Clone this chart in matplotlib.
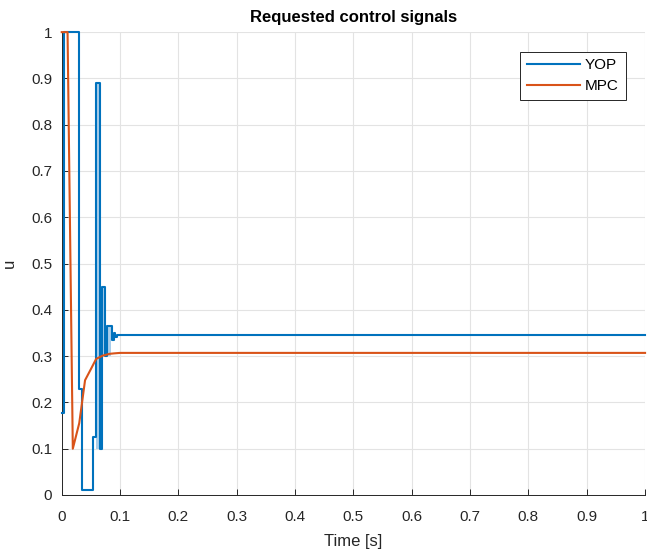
import matplotlib
matplotlib.use("Agg")
import matplotlib.pyplot as plt

plt.rcParams['font.family'] = ['Liberation Sans', 'DejaVu Sans']

# YOP piecewise-constant control (steps-post)
yop_t = [0.0, 0.004, 0.030, 0.034, 0.054, 0.058, 0.065, 0.069, 0.075, 0.078, 0.086, 0.089, 0.092, 0.095, 0.15, 1.0]
yop_u = [0.177, 1.0, 0.23, 0.01, 0.125, 0.89, 0.10, 0.45, 0.30, 0.365, 0.335, 0.35, 0.342, 0.345, 0.345, 0.345]

# chattering bands (rapid switching appears as shaded areas)
band_t1 = [0.0587, 0.0643]
band_lo1 = [0.10, 0.10]
band_hi1 = [0.89, 0.89]
band_t2 = [0.0655, 0.0745]
band_lo2 = [0.30, 0.30]
band_hi2 = [0.45, 0.45]
band_t3 = [0.0787, 0.0853]
band_lo3 = [0.30, 0.30]
band_hi3 = [0.365, 0.365]

# MPC control (linear interpolation)
mpc_t = [0.0, 0.01, 0.019, 0.03, 0.04, 0.05, 0.059, 0.07, 0.082, 0.09, 0.1, 1.0]
mpc_u = [1.0, 1.0, 0.10, 0.155, 0.248, 0.272, 0.294, 0.301, 0.305, 0.306, 0.307, 0.307]

xticks = [0, 0.1, 0.2, 0.3, 0.4, 0.5, 0.6, 0.7, 0.8, 0.9, 1]
xticklabels = ['0', '0.1', '0.2', '0.3', '0.4', '0.5', '0.6', '0.7', '0.8', '0.9', '1']
yticks = [0, 0.1, 0.2, 0.3, 0.4, 0.5, 0.6, 0.7, 0.8, 0.9, 1]
yticklabels = ['0', '0.1', '0.2', '0.3', '0.4', '0.5', '0.6', '0.7', '0.8', '0.9', '1']

blue = '#0072BD'
orange = '#D95319'
shade = '#a9cdea'

fig = plt.figure(figsize=(6.47, 5.54), dpi=100)
ax = fig.add_axes([0.0954, 0.1065, 0.9016, 0.8355])

for bt, blo, bhi in [(band_t1, band_lo1, band_hi1), (band_t2, band_lo2, band_hi2),
                     (band_t3, band_lo3, band_hi3)]:
    ax.fill_between(bt, blo, bhi, color=shade, lw=0, zorder=2)
ax.plot(yop_t, yop_u, drawstyle='steps-post', color=blue, lw=1.5, label='YOP',
        zorder=3, clip_on=False)
ax.plot(mpc_t, mpc_u, color=orange, lw=1.5, label='MPC', zorder=4, clip_on=False)

ax.set_xlim(0, 1)
ax.set_ylim(0, 1)
ax.set_xticks(xticks)
ax.set_xticklabels(xticklabels)
ax.set_yticks(yticks)
ax.set_yticklabels(yticklabels)
ax.tick_params(direction='in', length=4, width=0.7, labelsize=11, colors='#262626')
ax.tick_params(axis='x', pad=11)
ax.tick_params(axis='y', pad=7)
ax.grid(True, color='#e3e3e3', lw=0.8)
ax.set_axisbelow(True)
for side in ['top', 'right']:
    ax.spines[side].set_visible(False)
for side in ['left', 'bottom']:
    ax.spines[side].set_color('#262626')
    ax.spines[side].set_linewidth(0.7)

ax.set_title('Requested control signals', fontsize=12, fontweight='bold', pad=7)
ax.set_xlabel('Time [s]', fontsize=12, color='#262626', labelpad=7)
ax.set_ylabel('u', fontsize=12, color='#262626', labelpad=10)

leg = ax.legend(loc='upper right', bbox_to_anchor=(0.967, 0.958), fontsize=11,
                handlelength=3.5, fancybox=False, framealpha=1, edgecolor='#262626',
                borderpad=0.45, labelspacing=0.45, handletextpad=0.3, borderaxespad=0)
leg.get_frame().set_linewidth(0.7)

fig.savefig('out.png', dpi=100)
